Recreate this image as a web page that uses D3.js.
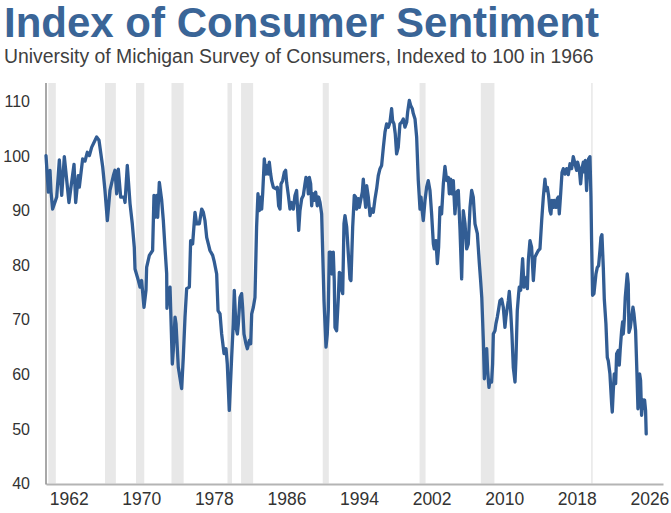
<!DOCTYPE html>
<html>
<head>
<meta charset="UTF-8">
<title>Index of Consumer Sentiment</title>
<script src="https://cdn.jsdelivr.net/npm/d3@7"></script>
<style>
  body { margin: 0; background: #fff; }
  svg text { font-family: "Liberation Sans", Arial, sans-serif; }
</style>
</head>
<body>
<script>
// readings: decimal year and index value
var years = [
  1960.00, 1960.26, 1960.44, 1960.55, 1960.73, 1961.18, 1961.47, 1961.73, 1962.02, 1962.53,
  1963.09, 1963.27, 1963.56, 1963.67, 1964.04, 1964.30, 1964.55, 1964.78, 1965.03, 1965.58,
  1965.84, 1966.25, 1966.50, 1966.76, 1967.05, 1967.42, 1967.60, 1967.79, 1967.97, 1968.23,
  1968.60, 1968.71, 1968.96, 1969.26, 1969.51, 1969.73, 1969.81, 1970.18, 1970.36, 1970.54,
  1970.80, 1971.02, 1971.09, 1971.39, 1971.75, 1971.90, 1972.05, 1972.20, 1972.31, 1972.49,
  1972.75, 1972.93, 1973.11, 1973.30, 1973.33, 1973.48, 1973.67, 1973.92, 1974.03, 1974.22,
  1974.33, 1974.58, 1974.95, 1975.13, 1975.32, 1975.50, 1975.80, 1975.94, 1976.16, 1976.42,
  1976.60, 1976.90, 1977.16, 1977.34, 1977.52, 1977.71, 1977.89, 1978.07, 1978.37, 1978.55,
  1978.81, 1978.96, 1979.18, 1979.36, 1979.62, 1979.84, 1979.98, 1980.20, 1980.46, 1980.64,
  1980.75, 1980.94, 1981.09, 1981.20, 1981.38, 1981.56, 1981.67, 1981.82, 1982.04, 1982.19,
  1982.41, 1982.56, 1982.67, 1982.85, 1983.03, 1983.21, 1983.36, 1983.51, 1983.65, 1983.77,
  1983.88, 1984.06, 1984.21, 1984.39, 1984.50, 1984.61, 1984.76, 1984.87, 1985.05, 1985.35,
  1985.49, 1985.64, 1985.79, 1985.90, 1986.08, 1986.26, 1986.41, 1986.52, 1986.71, 1986.89,
  1987.07, 1987.26, 1987.44, 1987.62, 1987.73, 1987.85, 1987.99, 1988.18, 1988.36, 1988.54,
  1988.65, 1988.80, 1988.91, 1989.02, 1989.17, 1989.28, 1989.39, 1989.57, 1989.72, 1989.90,
  1990.05, 1990.20, 1990.38, 1990.49, 1990.64, 1990.86, 1991.00, 1991.11, 1991.22, 1991.37,
  1991.52, 1991.66, 1991.77, 1991.85, 1992.03, 1992.22, 1992.33, 1992.48, 1992.59, 1992.70,
  1992.84, 1992.95, 1993.14, 1993.32, 1993.50, 1993.61, 1993.80, 1993.98, 1994.13, 1994.24,
  1994.42, 1994.53, 1994.68, 1994.86, 1994.97, 1995.08, 1995.23, 1995.34, 1995.52, 1995.71,
  1995.89, 1996.07, 1996.26, 1996.44, 1996.62, 1996.81, 1996.99, 1997.18, 1997.36, 1997.54,
  1997.73, 1997.91, 1998.09, 1998.20, 1998.35, 1998.49, 1998.64, 1998.82, 1999.01, 1999.20,
  1999.38, 1999.56, 1999.75, 1999.86, 2000.04, 2000.19, 2000.37, 2000.48, 2000.67, 2000.85,
  2001.03, 2001.22, 2001.33, 2001.44, 2001.58, 2001.77, 2001.95, 2002.13, 2002.32, 2002.50,
  2002.69, 2002.79, 2002.98, 2003.13, 2003.27, 2003.42, 2003.60, 2003.79, 2003.97, 2004.16,
  2004.34, 2004.45, 2004.60, 2004.74, 2004.89, 2005.07, 2005.26, 2005.44, 2005.63, 2005.81,
  2005.99, 2006.18, 2006.36, 2006.54, 2006.73, 2006.91, 2007.09, 2007.28, 2007.54, 2007.76,
  2007.90, 2008.03, 2008.20, 2008.31, 2008.46, 2008.57, 2008.67, 2008.82, 2008.93, 2009.11,
  2009.22, 2009.30, 2009.48, 2009.59, 2009.74, 2009.89, 2010.03, 2010.22, 2010.40, 2010.58,
  2010.69, 2010.95, 2011.06, 2011.21, 2011.35, 2011.50, 2011.69, 2011.80, 2011.94, 2012.09,
  2012.16, 2012.31, 2012.42, 2012.53, 2012.68, 2012.83, 2012.97, 2013.05, 2013.16, 2013.34,
  2013.52, 2013.71, 2013.89, 2014.07, 2014.26, 2014.44, 2014.63, 2014.81, 2014.99, 2015.10,
  2015.25, 2015.39, 2015.54, 2015.65, 2015.76, 2015.91, 2016.02, 2016.20, 2016.35, 2016.46,
  2016.57, 2016.72, 2016.87, 2017.01, 2017.20, 2017.38, 2017.56, 2017.75, 2017.93, 2018.11,
  2018.30, 2018.48, 2018.59, 2018.77, 2018.92, 2019.07, 2019.22, 2019.33, 2019.44, 2019.58,
  2019.69, 2019.80, 2019.95, 2020.06, 2020.13, 2020.24, 2020.39, 2020.61, 2020.76, 2020.90,
  2021.05, 2021.16, 2021.27, 2021.42, 2021.53, 2021.71, 2021.86, 2021.97, 2022.15, 2022.34,
  2022.41, 2022.52, 2022.63, 2022.78, 2022.89, 2023.07, 2023.18, 2023.29, 2023.44, 2023.55,
  2023.62, 2023.73, 2023.84, 2024.06, 2024.17, 2024.25, 2024.40, 2024.54, 2024.69, 2024.80,
  2024.98, 2025.13, 2025.24, 2025.35, 2025.42, 2025.53, 2025.64, 2025.79, 2025.90, 2025.97,
  2026.08, 2026.15
];
var sentiment = [
  100.1, 93.4, 97.4, 93.5, 90.3, 92.5, 99.3, 92.8, 99.9, 91.5,
  98.5, 91.5, 96.4, 94.3, 99.5, 99.1, 100.7, 100.1, 101.6, 103.5,
  102.9, 98.0, 93.7, 88.2, 93.7, 96.4, 97.4, 93.1, 97.6, 92.5,
  92.5, 91.5, 98.3, 91.3, 87.6, 83.3, 79.3, 77.2, 76.0, 77.2,
  72.3, 75.4, 79.6, 81.8, 82.7, 92.8, 88.8, 92.8, 88.8, 95.2,
  91.9, 88.2, 83.3, 78.4, 72.1, 74.8, 76.0, 61.9, 64.4, 70.5,
  69.3, 61.3, 57.4, 63.1, 70.5, 75.7, 76.0, 84.5, 83.9, 89.7,
  87.6, 87.6, 90.3, 89.7, 88.2, 85.1, 83.9, 82.7, 81.8, 80.6,
  78.4, 71.7, 71.1, 67.4, 63.8, 64.7, 61.9, 53.4, 63.1, 69.3,
  75.4, 68.6, 67.4, 69.3, 74.1, 74.8, 72.3, 67.4, 65.6, 64.7,
  66.2, 65.6, 71.1, 72.3, 74.1, 87.0, 93.1, 90.0, 92.5, 90.3,
  93.1, 99.5, 96.7, 98.3, 96.7, 98.9, 96.7, 95.5, 94.3, 94.0,
  94.3, 90.9, 90.3, 94.9, 95.5, 97.0, 97.4, 95.2, 92.8, 90.3,
  91.5, 90.3, 92.8, 93.7, 90.3, 86.4, 90.0, 92.2, 92.8, 94.9,
  96.1, 95.5, 93.1, 96.1, 94.9, 90.9, 93.1, 91.9, 93.4, 90.9,
  92.5, 91.5, 89.4, 82.7, 73.5, 65.0, 67.4, 71.7, 82.4, 82.4,
  78.4, 82.4, 77.2, 68.6, 68.0, 74.1, 78.7, 78.4, 75.4, 74.8,
  87.6, 89.1, 87.0, 82.1, 77.5, 77.2, 87.0, 92.8, 92.5, 90.3,
  92.2, 90.6, 91.9, 93.4, 95.8, 93.1, 90.6, 94.6, 92.5, 89.1,
  90.3, 89.7, 92.2, 94.0, 96.4, 97.7, 98.3, 101.6, 104.4, 105.9,
  105.3, 106.2, 108.7, 106.5, 105.9, 104.1, 100.4, 101.6, 105.9, 106.2,
  106.8, 105.3, 106.2, 108.1, 110.2, 109.3, 108.7, 107.8, 106.8, 103.5,
  95.5, 90.3, 92.5, 90.3, 88.2, 91.9, 94.3, 95.5, 93.7, 89.4,
  83.9, 83.0, 84.5, 80.3, 83.3, 90.6, 89.4, 94.9, 98.1, 95.5,
  96.1, 93.1, 95.8, 93.1, 95.5, 89.4, 93.4, 93.7, 86.4, 77.5,
  90.0, 87.6, 83.0, 83.9, 90.6, 93.7, 92.5, 87.6, 85.8, 80.3,
  77.2, 74.0, 66.2, 59.2, 64.4, 64.7, 60.7, 57.6, 58.9, 58.6,
  61.9, 67.4, 68.0, 69.3, 70.5, 72.0, 73.5, 73.8, 72.3, 68.6,
  70.5, 73.5, 75.2, 71.7, 67.4, 61.3, 58.6, 63.1, 71.7, 74.8,
  76.0, 75.4, 78.4, 81.2, 76.0, 77.2, 77.8, 75.7, 80.9, 84.5,
  83.3, 77.2, 81.5, 82.1, 82.7, 83.0, 88.2, 92.5, 95.8, 93.7,
  94.3, 92.8, 90.0, 89.4, 91.9, 90.6, 91.9, 90.6, 92.2, 92.5,
  89.4, 93.1, 97.0, 97.7, 96.7, 97.7, 96.6, 98.6, 97.7, 99.9,
  98.6, 97.4, 98.9, 97.7, 94.9, 97.7, 98.9, 97.1, 99.2, 93.7,
  97.4, 99.5, 99.9, 92.5, 84.5, 74.5, 74.8, 78.4, 79.6, 79.9,
  82.7, 85.1, 85.6, 79.6, 73.8, 69.3, 63.1, 62.5, 60.1, 54.6,
  53.1, 57.0, 60.1, 58.3, 63.8, 64.4, 61.7, 64.7, 68.0, 69.6,
  67.4, 69.9, 74.1, 78.4, 76.6, 67.7, 68.6, 70.5, 72.3, 71.1,
  68.0, 60.1, 53.7, 57.0, 60.1, 58.9, 52.5, 55.3, 54.7, 55.3,
  53.4, 49.1
];
// shaded periods, start and end as decimal years
var recessions = [
  [1960.25, 1961.08], [1966.5, 1967.7], [1969.92, 1970.83], [1973.83, 1975.17],
  [1980.0, 1980.5], [1981.5, 1982.83], [1990.5, 1991.17], [2001.17, 2001.83],
  [2007.92, 2009.42], [2020.08, 2020.25]
];
var tickYears = [1962, 1970, 1978, 1986, 1994, 2002, 2010, 2018, 2026];
var yTicks = [40, 50, 60, 70, 80, 90, 100, 110];

var width = 671, height = 513;
var plotLeft = 46, plotRight = 663, plotTop = 83, plotBottom = 483.5;

var svg = d3.select("body").append("svg")
    .attr("width", width)
    .attr("height", height);

var x = d3.scaleLinear().domain([1960, 2028]).range([plotLeft, plotRight]);
var y = d3.scaleLinear().domain([40, 113.4]).range([plotBottom, plotTop]);

var data = years.map(function(d, i) { return [d, sentiment[i]]; });

// title
svg.append("text")
    .attr("x", 4).attr("y", 37)
    .attr("font-size", 42).attr("font-weight", "bold")
    .attr("fill", "#3a6597")
    .text("Index of Consumer Sentiment");

svg.append("text")
    .attr("x", 4).attr("y", 63)
    .attr("font-size", 19.4)
    .attr("fill", "#404040")
    .text("University of Michigan Survey of Consumers, Indexed to 100 in 1966");

// shaded bands
svg.append("g").selectAll("rect")
    .data(recessions)
    .enter()
    .append("rect")
    .attr("x", function(d) { return x(d[0]); })
    .attr("y", plotTop)
    .attr("width", function(d) { return Math.max(1.5, x(d[1]) - x(d[0])); })
    .attr("height", plotBottom - plotTop)
    .attr("fill", "#e8e8e8");

// x axis
var xAxis = svg.append("g")
    .attr("transform", "translate(0," + (plotBottom + 0.5) + ")")
    .call(d3.axisBottom(x)
        .tickValues(tickYears.map(function(t) { return t + 0.5; }))
        .tickFormat(function(d) { return Math.floor(d); })
        .tickSize(0)
        .tickSizeOuter(0)
        .tickPadding(9));
xAxis.select(".domain").attr("stroke", "#b4b4b4").attr("stroke-width", 2);
xAxis.selectAll("text")
    .attr("font-size", 17.5)
    .attr("font-family", "Liberation Sans, Arial, sans-serif")
    .attr("fill", "#333");

// y axis
var yAxis = svg.append("g")
    .attr("transform", "translate(" + plotLeft + ",0)")
    .call(d3.axisLeft(y).tickValues(yTicks).tickSize(0).tickPadding(16));
yAxis.select(".domain").remove();
yAxis.selectAll("text")
    .attr("font-size", 16)
    .attr("font-family", "Liberation Sans, Arial, sans-serif")
    .attr("fill", "#333");

svg.append("line")
    .attr("x1", plotLeft).attr("x2", plotLeft)
    .attr("y1", plotTop).attr("y2", plotBottom + 1)
    .attr("stroke", "#6e6e6e")
    .attr("stroke-width", 1.2);

// the index line
var line = d3.line()
    .x(function(d) { return x(d[0]); })
    .y(function(d) { return y(d[1]); });

svg.append("path")
    .datum(data)
    .attr("d", line)
    .attr("fill", "none")
    .attr("stroke", "#325d94")
    .attr("stroke-width", 3.3)
    .attr("stroke-linejoin", "round")
    .attr("stroke-linecap", "round");
</script>
</body>
</html>
